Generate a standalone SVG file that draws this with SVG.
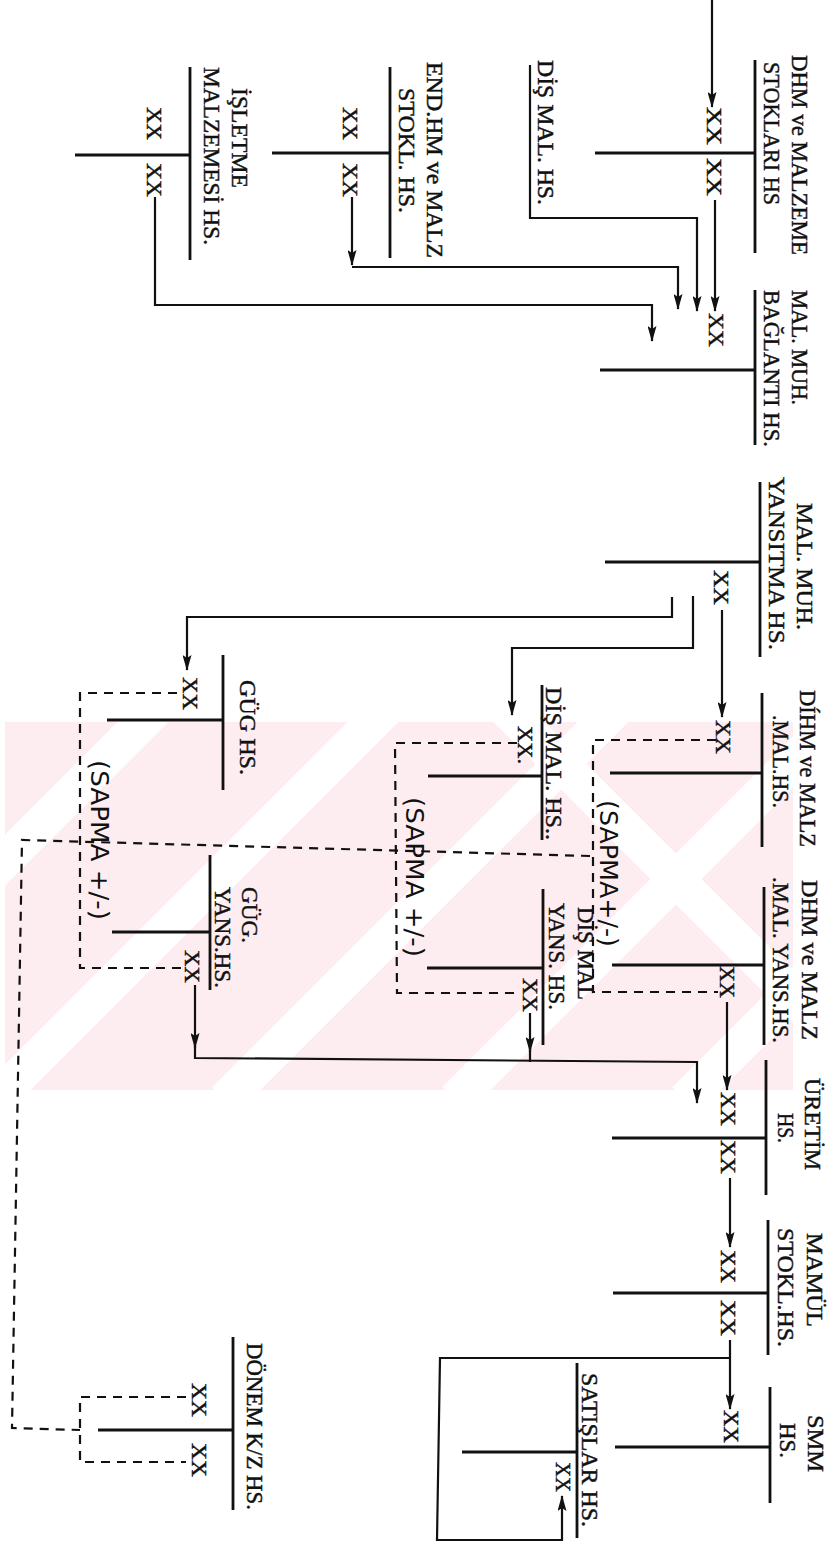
<svg xmlns="http://www.w3.org/2000/svg" width="835" height="1552" viewBox="0 0 835 1552">
<defs>
<style>
.t{font-family:"Liberation Serif","Times New Roman",serif;font-size:24px;fill:#111;stroke:#111;stroke-width:0.45}
.x{font-family:"Liberation Serif","Times New Roman",serif;font-size:22px;fill:#111;stroke:#111;stroke-width:0.45}
.h{font-family:"DejaVu Sans","Liberation Sans",sans-serif;font-size:24px;fill:#111}
.b{stroke:#111;stroke-width:2.8;fill:none}
.c{stroke:#111;stroke-width:2.2;fill:none}
.ca{stroke:#111;stroke-width:2.2;fill:none;marker-end:url(#ah)}
.d{stroke:#111;stroke-width:2.2;fill:none;stroke-dasharray:9 7}
.wm{stroke:#fff;stroke-width:36}
</style>
<marker id="ah" viewBox="0 0 16 9" refX="15" refY="4.5" markerWidth="16" markerHeight="9" markerUnits="userSpaceOnUse" orient="auto"><path d="M0,0 L16,4.5 L0,9 L3,4.5 z" fill="#111"/></marker>
<clipPath id="wmclip"><rect x="5" y="722" width="788" height="368"/></clipPath>
</defs>
<rect width="835" height="1552" fill="#fff"/>
<g id="watermark" clip-path="url(#wmclip)">
<rect x="5" y="722" width="788" height="368" fill="#fdedf0"/>
<line class="wm" x1="-235" y1="1100" x2="165" y2="700"/>
<line class="wm" x1="-5" y1="1100" x2="395" y2="700"/>
<line class="wm" x1="225" y1="1100" x2="625" y2="700"/>
<line class="wm" x1="455" y1="1100" x2="855" y2="700"/>
<line class="wm" x1="685" y1="1100" x2="1085" y2="700"/>
<line class="wm" x1="497" y1="700" x2="897" y2="1100"/>
</g>

<g id="connectors">
<path class="ca" d="M712,0 V107"/>
<path class="ca" d="M715,200 V311"/>
<path class="ca" d="M530,65 V218 H697 V311"/>
<path class="ca" d="M352,197 V265"/>
<path class="ca" d="M352,267 H678 V309"/>
<path class="ca" d="M155,197 V305 H652 V341"/>
<path class="ca" d="M722,610 V717"/>
<path class="ca" d="M672,597 V617 H187 V670"/>
<path class="ca" d="M693,596 V648 H512 V715"/>
<path class="ca" d="M727,1002 V1090"/>
<path class="ca" d="M530,1013 V1052"/>
<path class="c" d="M530,1048 V1062"/>
<path class="ca" d="M195,985 V1048"/>
<path class="ca" d="M195,1045 V1058 L697,1062 V1103"/>
<path class="ca" d="M730,1178 V1247"/>
<path class="ca" d="M730,1340 V1409"/>
<path class="ca" d="M730,1358 H440 L437,1540 H562 V1496"/>
<path class="d" d="M716,740 H593 V992 H718"/>
<path class="d" d="M517,743 H395 L397,993 H520"/>
<path class="d" d="M177,693 H80 V968 H182"/>
<path class="d" d="M590,856 L22,840 L12,1428 L80,1430"/>
<path class="d" d="M186,1397 H80 V1462 H186"/>
</g>

<g id="dhm-stoklari">
<path class="b" d="M755,60 V253 M595,153 H755"/>
<text class="t" transform="translate(792,55) rotate(90)" textLength="200" lengthAdjust="spacingAndGlyphs">DHM ve MALZEME</text>
<text class="t" transform="translate(764,62) rotate(90)" textLength="143" lengthAdjust="spacingAndGlyphs">STOKLARI HS</text>
<text class="x" transform="translate(707,107) rotate(90)" textLength="38" lengthAdjust="spacingAndGlyphs">XX</text>
<text class="x" transform="translate(707,158) rotate(90)" textLength="38" lengthAdjust="spacingAndGlyphs">XX</text>
</g>

<g id="dis-mal-label">
<text class="t" transform="translate(538,60) rotate(90)" textLength="145" lengthAdjust="spacingAndGlyphs">DİŞ MAL. HS.</text>
</g>

<g id="mal-muh-baglanti">
<path class="b" d="M755,290 V445 M600,370 H755"/>
<text class="t" transform="translate(792,290) rotate(90)" textLength="115" lengthAdjust="spacingAndGlyphs">MAL. MUH.</text>
<text class="t" transform="translate(764,290) rotate(90)" textLength="157" lengthAdjust="spacingAndGlyphs">BAĞLANTI HS.</text>
<text class="x" transform="translate(709,313) rotate(90)" textLength="34" lengthAdjust="spacingAndGlyphs">XX</text>
</g>

<g id="end-hm">
<path class="b" d="M390,67 V258 M272,153 H390"/>
<text class="t" transform="translate(427,62) rotate(90)" textLength="196" lengthAdjust="spacingAndGlyphs">END.HM ve MALZ</text>
<text class="t" transform="translate(399,88) rotate(90)" textLength="125" lengthAdjust="spacingAndGlyphs">STOKL. HS.</text>
<text class="x" transform="translate(343,107) rotate(90)" textLength="33" lengthAdjust="spacingAndGlyphs">XX</text>
<text class="x" transform="translate(343,163) rotate(90)" textLength="34" lengthAdjust="spacingAndGlyphs">XX</text>
</g>

<g id="isletme">
<path class="b" d="M190,67 V260 M75,155 H190"/>
<text class="t" transform="translate(232,88) rotate(90)" textLength="100" lengthAdjust="spacingAndGlyphs">İŞLETME</text>
<text class="t" transform="translate(204,67) rotate(90)" textLength="178" lengthAdjust="spacingAndGlyphs">MALZEMESİ HS.</text>
<text class="x" transform="translate(147,107) rotate(90)" textLength="33" lengthAdjust="spacingAndGlyphs">XX</text>
<text class="x" transform="translate(147,163) rotate(90)" textLength="34" lengthAdjust="spacingAndGlyphs">XX</text>
</g>

<g id="mal-muh-yansitma">
<path class="b" d="M760,482 V657 M605,562 H760"/>
<text class="t" transform="translate(797,503) rotate(90)" textLength="127" lengthAdjust="spacingAndGlyphs">MAL. MUH.</text>
<text class="t" transform="translate(769,477) rotate(90)" textLength="173" lengthAdjust="spacingAndGlyphs">YANSITMA HS.</text>
<text class="x" transform="translate(714,570) rotate(90)" textLength="35" lengthAdjust="spacingAndGlyphs">XX</text>
</g>

<g id="dihm-mal">
<path class="b" d="M762,693 V847 M610,773 H762"/>
<text class="t" transform="translate(800,690) rotate(90)" textLength="157" lengthAdjust="spacingAndGlyphs">DÍHM ve MALZ</text>
<text class="t" transform="translate(773,715) rotate(90)" textLength="93" lengthAdjust="spacingAndGlyphs">.MAL.HS.</text>
<text class="x" transform="translate(716,720) rotate(90)" textLength="34" lengthAdjust="spacingAndGlyphs">XX</text>
</g>

<g id="dis-mal">
<path class="b" d="M542,685 V840 M428,776 H542"/>
<text class="t" transform="translate(546,687) rotate(90)" textLength="153" lengthAdjust="spacingAndGlyphs">DİŞ MAL. HS..</text>
<text class="x" transform="translate(518,726) rotate(90)" textLength="38" lengthAdjust="spacingAndGlyphs">XX.</text>
</g>

<g id="gug">
<path class="b" d="M223,655 V790 M107,720 H223"/>
<text class="t" transform="translate(240,680) rotate(90)" textLength="95" lengthAdjust="spacingAndGlyphs">GÜG HS.</text>
<text class="x" transform="translate(183,677) rotate(90)" textLength="33" lengthAdjust="spacingAndGlyphs">XX</text>
</g>

<g id="dhm-yans">
<path class="b" d="M764,887 V1045 M612,965 H764"/>
<text class="t" transform="translate(802,880) rotate(90)" textLength="160" lengthAdjust="spacingAndGlyphs">DHM ve MALZ</text>
<text class="t" transform="translate(773,877) rotate(90)" textLength="166" lengthAdjust="spacingAndGlyphs">.MAL. YANS.HS.</text>
<text class="x" transform="translate(720,966) rotate(90)" textLength="32" lengthAdjust="spacingAndGlyphs">XX</text>
</g>

<g id="dis-mal-yans">
<path class="b" d="M543,889 V1045 M427,968 H543"/>
<text class="t" transform="translate(578,907) rotate(90)" textLength="93" lengthAdjust="spacingAndGlyphs">DİŞ MAL</text>
<text class="t" transform="translate(549,903) rotate(90)" textLength="107" lengthAdjust="spacingAndGlyphs">YANS. HS.</text>
<text class="x" transform="translate(523,978) rotate(90)" textLength="34" lengthAdjust="spacingAndGlyphs">XX</text>
</g>

<g id="gug-yans">
<path class="b" d="M210,855 V990 M112,932 H210"/>
<text class="t" transform="translate(242,887) rotate(90)" textLength="56" lengthAdjust="spacingAndGlyphs">GÜG.</text>
<text class="t" transform="translate(215,887) rotate(90)" textLength="101" lengthAdjust="spacingAndGlyphs">YANS.HS.</text>
<text class="x" transform="translate(185,950) rotate(90)" textLength="33" lengthAdjust="spacingAndGlyphs">XX</text>
</g>

<g id="sapma-labels">
<text class="h" transform="translate(600,800) rotate(90)" textLength="147" lengthAdjust="spacingAndGlyphs">(SAPMA+/-)</text>
<text class="h" transform="translate(406,797) rotate(90)" textLength="160" lengthAdjust="spacingAndGlyphs">(SAPMA +/-)</text>
<text class="h" transform="translate(91,760) rotate(90)" textLength="160" lengthAdjust="spacingAndGlyphs">(SAPMA +/-)</text>
</g>

<g id="uretim">
<path class="b" d="M766,1060 V1195 M612,1138 H766"/>
<text class="t" transform="translate(805,1078) rotate(90)" textLength="92" lengthAdjust="spacingAndGlyphs">ÜRETİM</text>
<text class="t" transform="translate(778,1113) rotate(90)" textLength="30" lengthAdjust="spacingAndGlyphs">HS.</text>
<text class="x" transform="translate(721,1092) rotate(90)" textLength="34" lengthAdjust="spacingAndGlyphs">XX</text>
<text class="x" transform="translate(721,1140) rotate(90)" textLength="34" lengthAdjust="spacingAndGlyphs">XX</text>
</g>

<g id="mamul">
<path class="b" d="M768,1220 V1355 M613,1293 H768"/>
<text class="t" transform="translate(807,1233) rotate(90)" textLength="94" lengthAdjust="spacingAndGlyphs">MAMÜL</text>
<text class="t" transform="translate(778,1228) rotate(90)" textLength="119" lengthAdjust="spacingAndGlyphs">STOKL.HS.</text>
<text class="x" transform="translate(721,1250) rotate(90)" textLength="33" lengthAdjust="spacingAndGlyphs">XX</text>
<text class="x" transform="translate(721,1300) rotate(90)" textLength="36" lengthAdjust="spacingAndGlyphs">XX</text>
</g>

<g id="smm">
<path class="b" d="M770,1387 V1503 M615,1447 H770"/>
<text class="t" transform="translate(808,1415) rotate(90)" textLength="57" lengthAdjust="spacingAndGlyphs">SMM</text>
<text class="t" transform="translate(780,1423) rotate(90)" textLength="35" lengthAdjust="spacingAndGlyphs">HS.</text>
<text class="x" transform="translate(724,1410) rotate(90)" textLength="33" lengthAdjust="spacingAndGlyphs">XX</text>
</g>

<g id="satislar">
<path class="b" d="M577,1363 V1538 M462,1452 H577"/>
<text class="t" transform="translate(582,1373) rotate(90)" textLength="154" lengthAdjust="spacingAndGlyphs">SATIŞLAR HS.</text>
<text class="x" transform="translate(556,1462) rotate(90)" textLength="30" lengthAdjust="spacingAndGlyphs">XX</text>
</g>

<g id="donem-kz">
<path class="b" d="M233,1337 V1510 M98,1430 H233"/>
<text class="t" transform="translate(247,1343) rotate(90)" textLength="167" lengthAdjust="spacingAndGlyphs">DÖNEM K/Z HS.</text>
<text class="x" transform="translate(192,1383) rotate(90)" textLength="34" lengthAdjust="spacingAndGlyphs">XX</text>
<text class="x" transform="translate(192,1443) rotate(90)" textLength="34" lengthAdjust="spacingAndGlyphs">XX</text>
</g>
</svg>
